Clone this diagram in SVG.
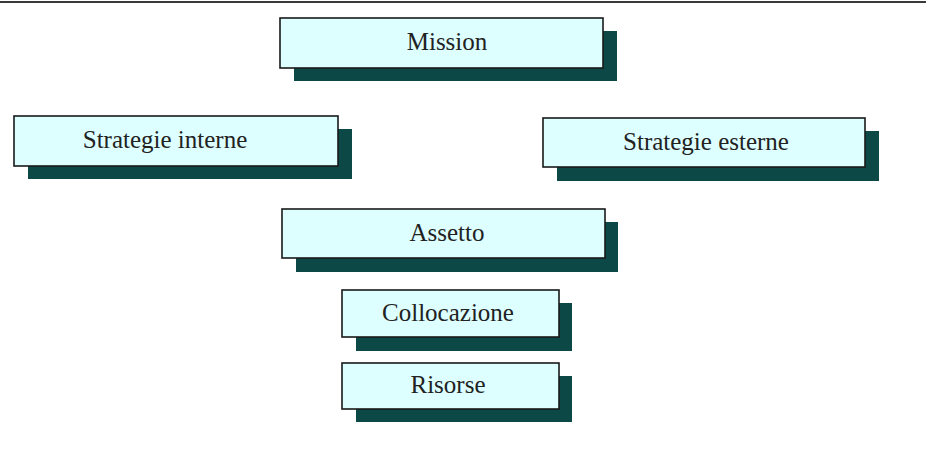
<svg xmlns="http://www.w3.org/2000/svg" width="926" height="450" viewBox="0 0 926 450">
<defs>
<style>
.sh{fill:#0b4846}
.bx{fill:#ddffff;stroke:#1a1a1a;stroke-width:1.6}
.t{font-family:"Liberation Serif","Times New Roman",serif;font-size:25px;fill:#222;text-anchor:middle}
</style>
</defs>
<rect width="926" height="450" fill="#fff"/>
<line x1="0" y1="2" x2="926" y2="2" stroke="#3a3a3a" stroke-width="2"/>
<g id="mission">
<rect class="sh" x="294" y="31" width="323" height="50"/>
<rect class="bx" x="280" y="18" width="323" height="50"/>
<text class="t" x="447" y="50">Mission</text>
</g>
<g id="strategie-interne">
<rect class="sh" x="28" y="129" width="324" height="50"/>
<rect class="bx" x="14" y="116" width="324" height="50"/>
<text class="t" x="165" y="148">Strategie interne</text>
</g>
<g id="strategie-esterne">
<rect class="sh" x="557" y="131" width="322" height="50"/>
<rect class="bx" x="543" y="118" width="322" height="49"/>
<text class="t" x="706" y="150">Strategie esterne</text>
</g>
<g id="assetto">
<rect class="sh" x="296" y="222" width="322" height="50"/>
<rect class="bx" x="282" y="209" width="323" height="49"/>
<text class="t" x="447" y="241">Assetto</text>
</g>
<g id="collocazione">
<rect class="sh" x="356" y="303" width="216" height="48"/>
<rect class="bx" x="342" y="290" width="217" height="47"/>
<text class="t" x="448" y="321">Collocazione</text>
</g>
<g id="risorse">
<rect class="sh" x="356" y="376" width="216" height="46"/>
<rect class="bx" x="342" y="363" width="217" height="46"/>
<text class="t" x="448" y="393">Risorse</text>
</g>
<g id="connectors"></g>
</svg>
